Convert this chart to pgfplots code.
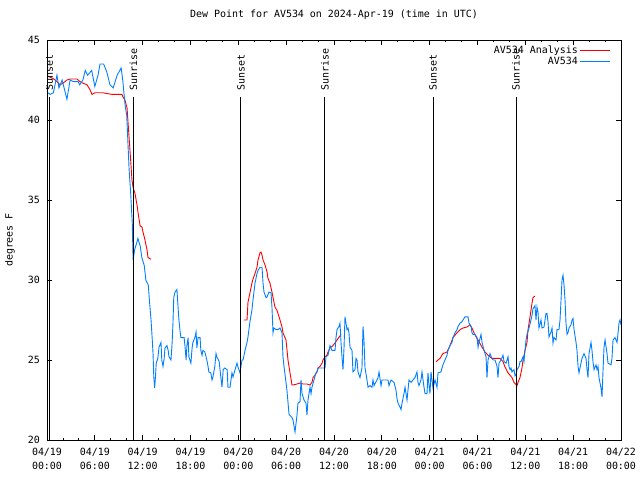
\documentclass[border=0pt]{standalone}
\usepackage{pgfplots}
\pgfplotsset{compat=1.18}
\usepackage{fontspec}
\setmainfont{DejaVu Sans Mono}
\definecolor{sensor}{RGB}{0,128,255}
\definecolor{anal}{RGB}{255,0,0}
\newcommand\cf{\fontsize{10}{14}\selectfont}
\begin{document}
\begin{tikzpicture}
\path[use as bounding box] (-47bp,-40bp) rectangle (593bp,440bp);
\begin{axis}[
  scale only axis, width=574bp, height=400bp,
  xmin=0, xmax=72, ymin=20, ymax=45,
  xtick={0,6,...,72},
  xticklabels={04/19\\00:00,04/19\\06:00,04/19\\12:00,04/19\\18:00,04/20\\00:00,04/20\\06:00,04/20\\12:00,04/20\\18:00,04/21\\00:00,04/21\\06:00,04/21\\12:00,04/21\\18:00,04/22\\00:00},
  minor x tick num=2,
  ytick={20,25,30,35,40,45},
  tick align=inside,
  major tick length=5bp, minor tick length=2.5bp,
  every tick/.style={black, line width=0.8bp},
  axis line style={line width=0.9bp},
  /pgf/number format/assume math mode=true,
  xticklabel style={font=\cf, align=center, anchor=north, yshift=-5bp},
  yticklabel style={font=\cf, anchor=east, xshift=-3.5bp},
  title={Dew Point for AV534 on 2024-Apr-19 (time in UTC)},
  title style={font=\cf, at={(0.5,1)}, anchor=base, yshift=17bp},
  ylabel={degrees F},
  ylabel style={font=\cf, at={(axis description cs:-0.0645,0.5)}, anchor=center},
  unbounded coords=jump,
  legend style={at={(1,1)}, anchor=north east, xshift=-9bp, yshift=-3bp, draw=none, fill=none, font=\cf, row sep=-2.5bp, inner sep=1bp},
  legend cell align=right,
  legend plot pos=right,
  legend image code/.code={\draw[#1] (0bp,0bp) -- (30bp,0bp);},
]
\addplot[anal, line width=0.9bp] coordinates {
(0.25,42.7) (0.75,42.6) (1.25,42.4) (1.63,42.2) (2.0,42.3) (2.5,42.5) (2.9,42.56) (3.76,42.56)
(4.14,42.4) (4.52,42.3) (5.02,42.2) (5.39,41.9) (5.64,41.6) (6.02,41.7) (7.0,41.7) (8.15,41.6)
(9.41,41.6) (9.53,41.44) (9.78,41.25) (10.04,40.75) (10.41,38.1) (10.66,36.25) (10.79,35.8)
(11.04,35.4) (11.29,34.7) (11.41,34.25) (11.67,33.4) (11.92,33.3) (12.04,33.0) (12.29,32.5)
(12.54,31.9) (12.67,31.4) (13.05,31.3)
(18,nan)
(24.71,27.5) (25.09,27.5) (25.21,28.6) (25.46,29.2) (25.71,29.8) (25.84,30.06) (26.09,30.4)
(26.34,30.8) (26.47,31.25) (26.72,31.7) (26.84,31.75) (26.97,31.56) (27.1,31.25) (27.35,30.94)
(27.6,30.5) (27.72,30.1) (27.97,29.8) (28.22,29.25) (28.35,28.9) (28.6,28.3) (28.85,28.1)
(28.98,27.9) (29.23,27.5) (29.48,27.06) (29.6,26.7) (29.85,26.4) (29.98,26.25) (30.11,25.6)
(30.23,25.0) (30.48,24.2) (30.73,23.44) (30.86,23.44) (31.36,23.5) (31.74,23.56) (32.11,23.5)
(32.61,23.5) (32.99,23.44) (33.24,23.6) (33.37,23.9) (33.62,24.06) (33.87,24.25) (33.99,24.5)
(34.24,24.6) (34.5,24.8) (34.62,25.0) (34.87,25.2) (35.12,25.3) (35.25,25.5) (35.5,25.75)
(35.88,25.9) (36.38,26.25) (36.88,26.6)
(42,nan)
(48.8,24.9) (49.3,25.1) (49.67,25.4) (50.18,25.5) (50.55,25.9) (50.93,26.4) (51.43,26.7)
(51.81,26.9) (52.18,27.0) (52.68,27.06) (53.06,27.2) (53.31,27.0) (53.69,26.56) (54.07,26.25)
(54.57,25.8) (54.94,25.5) (55.32,25.3) (55.82,25.1) (56.2,25.1) (56.82,25.1) (57.2,24.9)
(57.45,24.56) (57.83,24.2) (58.33,23.9) (58.58,23.6) (58.96,23.4) (59.08,23.6) (59.33,23.9)
(59.58,24.5) (59.71,25.0) (59.96,25.6) (60.21,26.1) (60.34,26.9) (60.59,27.7) (60.84,28.56)
(60.96,28.9) (61.21,29.0)
};
\addlegendentry{AV534 Analysis}
\addplot[sensor, line width=0.9bp] coordinates {
(0.1,41.7) (0.4,41.6) (0.8,41.7) (1.25,42.8) (1.5,42.0) (1.9,42.5) (2.5,41.3) (2.9,42.5)
(3.3,42.4) (3.9,42.4) (4.1,42.2) (4.5,42.5) (4.8,43.1) (5.1,42.8) (5.6,43.1) (6.0,42.1)
(6.4,42.8) (6.65,43.5) (7.1,43.5) (7.5,43.0) (7.9,42.2) (8.3,42.0) (8.8,42.8) (9.3,43.25)
(9.5,42.5) (9.8,40.9) (10.0,40.3) (10.3,36.9) (10.5,35.4) (10.7,33.5) (10.8,31.25) (11.0,31.9)
(11.3,32.4) (11.4,32.6) (11.7,32.1) (11.9,31.4) (12.2,30.9) (12.4,30.0) (12.7,29.7) (12.9,28.4)
(13.05,27.5) (13.2,26.3) (13.3,25.4) (13.4,23.9) (13.5,23.25) (13.6,23.9) (13.7,24.8) (13.9,25.1)
(14.05,25.8) (14.3,26.1) (14.4,25.0) (14.55,24.6) (14.7,25.1) (14.8,25.75) (15.05,25.9) (15.2,25.6)
(15.3,25.2) (15.55,25.0) (15.7,26.1) (15.8,27.3) (15.9,28.9) (16.06,29.25) (16.3,29.4) (16.4,28.6)
(16.55,27.5) (16.7,26.75) (16.8,26.4) (17.2,26.4) (17.3,25.9) (17.45,25.0) (17.55,25.9) (17.7,26.4)
(17.8,25.2) (18.05,24.8) (18.2,25.75) (18.3,26.1) (18.55,26.4) (18.7,26.75) (18.8,25.75) (18.95,26.4)
(19.2,26.4) (19.3,25.6) (19.45,25.3) (19.55,25.6) (19.8,25.5) (20.05,25.0) (20.2,24.6) (20.3,24.25)
(20.55,24.2) (20.7,23.75) (20.8,23.9) (21.05,24.6) (21.2,25.4) (21.3,25.2) (21.6,24.9) (21.7,24.4)
(21.95,23.3) (22.1,24.4) (22.3,24.5) (22.6,24.4) (22.7,23.3) (22.96,23.3) (23.2,24.2) (23.33,23.94)
(23.58,24.375) (23.83,24.8) (23.96,24.56) (24.21,24.19) (24.46,25.0) (24.59,25.0) (24.84,25.6)
(25.09,26.1) (25.2,26.4) (25.46,27.4) (25.7,28.1) (25.84,28.75) (26.09,29.8) (26.34,30.4)
(26.47,30.6) (26.72,30.8) (26.97,30.8) (27.1,29.8) (27.22,29.25) (27.47,28.9) (27.6,28.94)
(27.85,29.25) (28.1,29.2) (28.22,28.3) (28.35,26.7) (28.47,27.0) (28.73,26.9) (28.98,26.9)
(29.23,27.0) (29.48,26.7) (29.6,25.2) (29.73,24.6) (29.98,23.6) (30.1,23.1) (30.36,21.6)
(30.73,21.4) (30.86,21.25) (31.11,20.5) (31.36,21.56) (31.48,22.3) (31.74,22.4) (31.86,23.75)
(31.99,22.9) (32.24,22.5) (32.49,22.3) (32.61,21.56) (32.74,22.5) (32.99,23.3) (33.12,22.9)
(33.24,23.3) (33.49,23.75) (33.74,24.2) (33.87,24.25) (33.99,24.5) (34.5,24.5) (34.87,24.5)
(35.0,25.2) (35.25,25.3) (35.5,25.9) (35.75,25.6) (36.13,25.6) (36.25,26.4) (36.38,26.9)
(36.63,27.1) (36.75,27.3) (36.88,26.1) (37.0,25.2) (37.13,24.4) (37.26,25.8) (37.38,27.7)
(37.63,26.9) (37.76,27.0) (37.88,26.7) (38.01,25.8) (38.26,25.6) (38.38,24.25) (38.63,24.4)
(38.76,25.1) (38.89,25.0) (39.01,24.25) (39.26,23.9) (39.51,24.5) (39.64,27.1) (39.76,26.25)
(39.89,24.5) (40.14,23.75) (40.27,23.3) (40.52,23.4) (40.77,23.3) (40.89,23.75) (41.02,23.4)
(41.39,23.75) (41.52,23.9) (41.65,24.25) (41.9,23.4) (42.02,23.75) (42.4,23.75) (42.77,23.75)
(42.9,23.4) (43.15,23.75) (43.28,23.7) (43.53,23.6) (43.78,23.1) (43.9,22.6) (44.03,22.3)
(44.28,22.06) (44.41,21.9) (44.53,22.3) (44.78,22.9) (44.91,23.3) (45.16,22.5) (45.28,23.1)
(45.41,23.75) (45.66,23.6) (45.91,23.75) (46.16,23.9) (46.41,24.25) (46.54,23.6) (46.66,23.4)
(46.91,23.75) (47.04,24.25) (47.29,23.3) (47.42,22.9) (47.67,22.9) (47.79,24.2) (47.92,23.4)
(48.04,22.9) (48.17,24.25) (48.42,23.25) (48.67,23.75) (48.92,23.3) (49.05,24.2) (49.42,24.25)
(49.55,24.5) (49.67,24.7) (49.92,25.0) (50.18,25.3) (50.3,25.6) (50.55,25.9) (50.8,26.1)
(50.93,26.4) (51.18,26.7) (51.43,26.9) (51.56,27.1) (51.81,27.3) (52.06,27.4) (52.18,27.5)
(52.43,27.7) (52.68,27.7) (52.81,27.7) (52.94,27.3) (53.19,27.1) (53.31,26.7) (53.44,26.6)
(53.69,26.6) (53.94,26.4) (54.07,25.8) (54.19,26.1) (54.44,26.6) (54.57,26.1) (54.82,25.6)
(55.07,25.2) (55.19,23.9) (55.32,25.0) (55.57,25.4) (55.82,25.1) (55.95,25.0) (56.2,25.0)
(56.45,24.6) (56.57,23.9) (56.7,24.8) (56.95,25.0) (57.2,25.3) (57.33,24.9) (57.58,24.8)
(57.83,25.2) (57.95,24.6) (58.08,24.4) (58.2,24.5) (58.33,24.25) (58.58,24.4) (58.71,24.0)
(58.83,24.06) (58.96,24.4) (59.21,24.6) (59.33,24.9) (59.46,24.9) (59.71,25.2) (59.83,24.9)
(59.96,25.6) (60.09,26.25) (60.21,26.6) (60.46,27.0) (60.71,27.5) (60.84,27.8) (60.96,28.2)
(61.21,28.4) (61.34,27.5) (61.46,28.3) (61.59,28.0) (61.71,27.0) (61.97,27.5) (62.09,27.0)
(62.34,27.06) (62.59,27.9) (62.72,27.9) (62.84,27.4) (62.97,26.44) (63.22,26.75) (63.35,27.0)
(63.47,26.06) (63.6,26.4) (63.85,26.25) (63.97,26.9) (64.22,26.9) (64.35,27.5) (64.48,28.75)
(64.6,30.0) (64.73,30.3) (64.85,29.7) (64.98,28.75) (65.1,27.3) (65.23,26.6) (65.35,26.7)
(65.48,27.0) (65.73,27.2) (65.86,27.5) (65.98,27.6) (66.11,26.9) (66.36,26.1) (66.48,25.6)
(66.61,24.6) (66.73,24.2) (66.98,24.8) (67.11,25.1) (67.36,25.4) (67.61,25.1) (67.74,24.4)
(67.86,23.9) (67.99,25.4) (68.24,26.1) (68.36,25.6) (68.49,24.9) (68.62,24.4) (68.87,24.7)
(68.99,24.4) (69.12,24.6) (69.24,23.9) (69.49,23.25) (69.62,22.7) (69.75,24.4) (69.87,25.8)
(70.0,26.25) (70.25,25.4) (70.37,24.8) (70.75,24.7) (70.87,25.1) (71.0,26.25) (71.25,26.4)
(71.5,26.1) (71.63,26.7) (71.75,27.3) (71.88,27.5) (72.0,27.2)
};
\addlegendentry{AV534}
% sunrise / sunset markers
\addplot[black, line width=1bp, forget plot] coordinates {(0.28,20) (0.28,41.45)};
\addplot[black, line width=1bp, forget plot] coordinates {(10.83,20) (10.83,41.45)};
\addplot[black, line width=1bp, forget plot] coordinates {(24.33,20) (24.33,41.45)};
\addplot[black, line width=1bp, forget plot] coordinates {(34.87,20) (34.87,41.45)};
\addplot[black, line width=1bp, forget plot] coordinates {(48.42,20) (48.42,41.45)};
\addplot[black, line width=1bp, forget plot] coordinates {(58.83,20) (58.83,41.45)};
\node[rotate=90, anchor=west, font=\cf, inner sep=0pt, xshift=2bp] at (axis cs:0.28,41.7) {Sunset};
\node[rotate=90, anchor=west, font=\cf, inner sep=0pt, xshift=2bp] at (axis cs:10.83,41.7) {Sunrise};
\node[rotate=90, anchor=west, font=\cf, inner sep=0pt, xshift=2bp] at (axis cs:24.33,41.7) {Sunset};
\node[rotate=90, anchor=west, font=\cf, inner sep=0pt, xshift=2bp] at (axis cs:34.87,41.7) {Sunrise};
\node[rotate=90, anchor=west, font=\cf, inner sep=0pt, xshift=2bp] at (axis cs:48.42,41.7) {Sunset};
\node[rotate=90, anchor=west, font=\cf, inner sep=0pt, xshift=2bp] at (axis cs:58.83,41.7) {Sunrise};
\end{axis}
\end{tikzpicture}
\end{document}
